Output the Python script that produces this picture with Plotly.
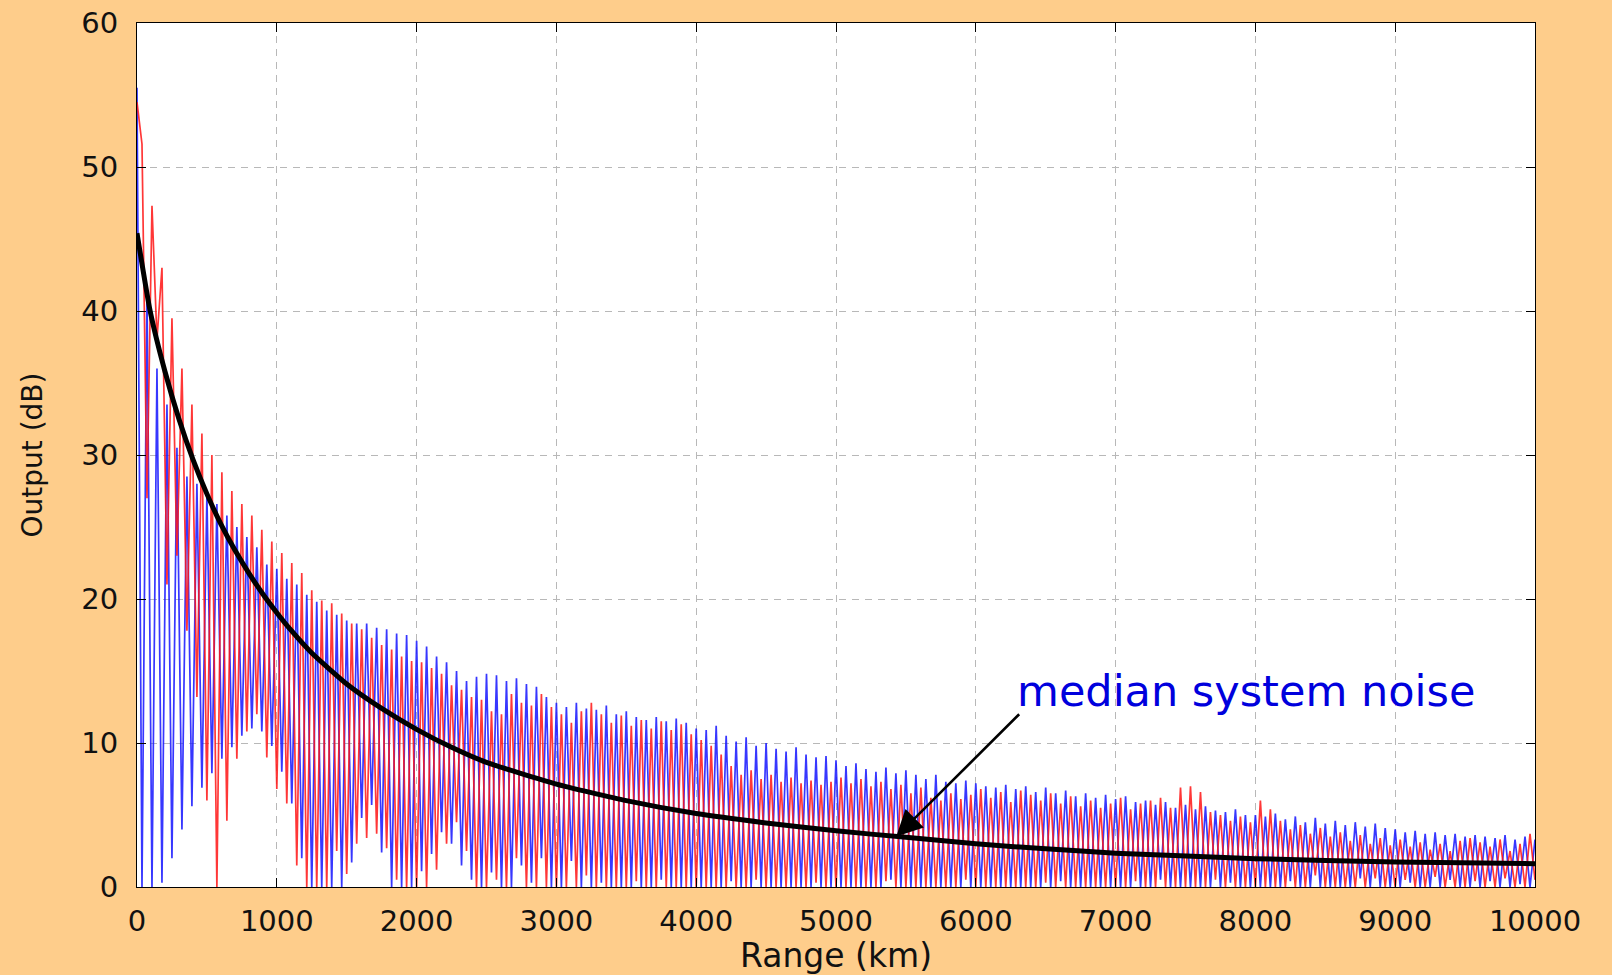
import numpy as np
import plotly.graph_objects as go

# ---------------- data ----------------
STEP_KM = 1000 / 28  # sample spacing of the two range profiles (km)

# blue profile: peaks at even samples, troughs at odd samples
BLUE_PEAKS = [
    55.5, 41.5, 36.0, 33.5, 30.5, 28.5, 28.0, 27.2, 26.6, 25.8, 25.0, 24.3, 23.6, 22.4,
    22.1, 21.4, 21.0, 20.3, 19.8, 19.2, 18.9, 18.5, 18.3, 18.3, 18.0, 17.9, 17.6, 17.5,
    17.1, 16.7, 16.0, 15.6, 15.0, 14.3, 14.6, 14.8, 14.7, 14.3, 14.5, 14.1, 13.9, 13.2,
    12.8, 12.5, 12.8, 12.4, 12.3, 12.6, 12.0, 12.2, 11.8, 11.6, 11.8, 11.5, 11.7, 11.4,
    11.0, 10.9, 11.2, 10.5, 10.1, 10.4, 9.8, 10.0, 9.6, 9.4, 9.7, 9.2, 9.0, 9.1,
    8.8, 8.4, 8.6, 8.2, 8.0, 8.3, 7.9, 8.1, 7.8, 7.5, 7.8, 7.3, 7.2, 7.4,
    7.2, 7.0, 6.9, 7.1, 6.8, 7.0, 6.6, 6.9, 6.5, 6.7, 6.3, 6.5, 6.2, 6.4,
    6.1, 6.3, 5.9, 6.0, 5.7, 5.9, 5.5, 5.7, 5.4, 5.6, 5.3, 5.2, 5.4, 5.0,
    5.0, 4.9, 5.1, 4.7, 4.9, 4.5, 4.8, 4.4, 4.6, 4.3, 4.5, 4.2, 4.4, 4.1,
    4.0, 3.8, 3.9, 3.7, 3.8, 3.6, 3.7, 3.5, 3.6, 3.5, 3.4, 3.6, 3.3, 3.5,
    3.3,
]
BLUE_TROUGHS = [
    0.0, 0.0, 0.3, 2.0, 4.0, 5.6, 6.9, 7.9, 8.9, 9.7, 10.5, 11.0, 10.8, 9.8,
    8.0, 5.8, 2.0, 0.0, 0.0, 0.0, 0.0, 1.7, 4.8, 5.7, 2.4, 0.0, 0.0, 0.0,
    1.1, 2.3, 3.8, 3.0, 1.5, 0.5, 0.0, 1.0, 0.0, 0.0, 1.5, 0.3, 2.0, 0.0,
    0.0, 1.8, 0.0, 0.0, 0.3, 0.0, 0.0, 0.0, 0.0, 0.0, 0.5, 0.0, 0.0, 0.0,
    0.0, 0.0, 0.0, 0.4, 0.0, 0.0, 0.0, 0.0, 0.0, 0.0, 0.0, 0.0, 0.0, 0.0,
    0.0, 0.0, 0.0, 0.0, 0.0, 0.5, 0.0, 0.0, 0.0, 0.0, 0.0, 0.0, 0.0, 0.0,
    0.0, 0.0, 0.0, 0.0, 0.0, 0.0, 0.0, 0.0, 0.4, 0.0, 0.0, 0.0, 0.0, 0.0,
    0.0, 0.0, 0.0, 0.0, 0.5, 0.0, 0.0, 0.0, 0.0, 0.0, 0.0, 0.3, 0.0, 0.0,
    0.0, 0.0, 0.0, 0.4, 0.0, 0.0, 0.0, 0.0, 0.0, 0.0, 0.6, 0.0, 0.0, 0.0,
    0.0, 0.3, 0.0, 0.0, 0.0, 0.5, 0.0, 0.0, 0.0, 0.4, 0.0, 0.0, 0.2, 0.0,
]

# red profile: first sample, then peaks at odd samples, troughs at even samples
RED_START = 54.5
RED_PEAKS = [
    51.6, 47.3, 43.0, 39.5, 36.0, 33.5, 31.5, 30.0, 28.8, 27.5, 26.6, 25.8, 24.8, 24.0,
    23.2, 22.5, 21.8, 20.6, 19.9, 19.7, 19.0, 18.3, 17.9, 17.3, 16.8, 16.5, 16.0, 15.7,
    15.6, 15.2, 14.8, 14.0, 13.7, 13.2, 13.0, 12.2, 12.0, 13.4, 12.8, 12.6, 13.4, 12.5,
    12.0, 11.4, 12.2, 12.8, 12.0, 11.4, 11.9, 11.2, 11.6, 11.0, 11.5, 10.9, 11.3, 10.6,
    10.2, 9.8, 9.2, 8.4, 7.8, 8.1, 7.5, 7.8, 7.3, 7.6, 7.2, 7.4, 7.1, 7.3,
    7.6, 7.2, 7.5, 7.0, 7.3, 6.8, 7.1, 6.5, 6.9, 6.2, 6.0, 6.5, 6.1, 6.4,
    6.8, 6.2, 6.6, 5.9, 6.7, 6.4, 6.0, 6.5, 5.8, 6.3, 5.6, 6.0, 5.5, 5.8,
    6.2, 5.4, 5.8, 6.0, 6.2, 5.5, 6.9, 7.0, 6.6, 5.2, 5.0, 4.6, 4.9, 4.5,
    6.0, 5.4, 4.6, 4.0, 4.3, 3.7, 4.1, 3.5, 3.8, 3.2, 3.6, 3.0, 3.4, 2.9,
    3.3, 2.8, 3.1, 2.6, 3.0, 2.5, 3.2, 3.4, 3.1, 2.8, 3.3, 2.5, 3.0, 3.7,
]
RED_TROUGHS = [
    27.0, 38.0, 21.0, 23.0, 17.8, 13.2, 6.0, 0.0, 4.6, 8.9, 10.8, 12.0, 9.0, 6.8,
    5.8, 1.5, 0.0, 0.0, 0.0, 2.5, 0.9, 3.0, 3.4, 3.7, 2.7, 0.5, 0.0, 0.0,
    0.0, 1.2, 3.0, 4.5, 2.5, 0.0, 0.0, 0.5, 0.0, 2.0, 0.0, 0.0, 0.0, 0.0,
    0.0, 0.0, 0.8, 0.0, 0.0, 0.0, 0.0, 0.4, 0.0, 0.0, 0.0, 0.0, 0.0, 0.0,
    0.0, 0.0, 0.0, 0.0, 0.0, 0.5, 0.0, 0.0, 0.0, 0.0, 0.0, 0.3, 0.0, 0.0,
    0.0, 0.0, 0.0, 0.0, 0.4, 0.0, 0.0, 0.0, 0.0, 0.0, 0.0, 0.0, 0.5, 0.0,
    0.0, 0.0, 0.0, 0.0, 0.0, 0.0, 0.3, 0.0, 0.0, 0.0, 0.0, 0.0, 0.0, 0.0,
    0.0, 0.4, 0.0, 0.0, 0.0, 0.0, 0.0, 0.0, 0.0, 0.5, 0.0, 0.0, 0.0, 0.0,
    0.0, 0.0, 0.0, 0.0, 0.0, 0.8, 0.0, 0.0, 0.0, 0.0, 0.0, 0.6, 0.0, 0.0,
    0.5, 0.0, 0.0, 0.7, 0.0, 0.0, 0.0, 0.4, 0.0, 0.0, 0.6, 0.0, 0.0, 0.5,
]

# median system noise curve
MEDIAN_KM = [0, 94, 200, 300, 400, 500, 600, 700, 800, 900, 1000, 1100, 1250, 1500,
             1750, 2000, 2250, 2500, 3000, 3500, 4000, 4500, 5000, 5500, 6000, 6500,
             7000, 8000, 9000, 10000]
MEDIAN_DB = [45.4, 40.0, 35.8, 32.5, 29.7, 27.3, 25.2, 23.4, 21.8, 20.35, 19.05, 17.85,
             16.25, 14.1, 12.4, 10.95, 9.7, 8.65, 7.15, 6.0, 5.1, 4.45, 3.9, 3.45, 3.0,
             2.65, 2.35, 1.97, 1.73, 1.62]

X_TICKS = list(range(0, 10001, 1000))
Y_TICKS = list(range(0, 61, 10))

ANNOT_TEXT = "median system noise"
ANNOT_TEXT_POS = (7930, 13.6)
ARROW_TIP = (5431, 3.5)
ARROW_TAIL = (6321, 12.1)


def interleave(a, b):
    out = []
    for p, t in zip(a, b):
        out += [p, t]
    return out


blue_y = interleave(BLUE_PEAKS[:-1], BLUE_TROUGHS) + [BLUE_PEAKS[-1]]
red_y = [RED_START] + interleave(RED_PEAKS, RED_TROUGHS)
blue_x = np.arange(len(blue_y)) * STEP_KM
red_x = np.arange(len(red_y)) * STEP_KM

FONT = "DejaVu Sans"

fig = go.Figure()
fig.add_trace(go.Scatter(x=blue_x, y=blue_y, mode="lines",
                         line=dict(color="rgba(20,20,255,0.85)", width=1.7),
                         showlegend=False, hoverinfo="skip"))
fig.add_trace(go.Scatter(x=red_x, y=red_y, mode="lines",
                         line=dict(color="rgba(255,20,20,0.85)", width=1.7),
                         showlegend=False, hoverinfo="skip"))
fig.add_trace(go.Scatter(x=MEDIAN_KM, y=MEDIAN_DB, mode="lines",
                         line=dict(color="black", width=5, shape="spline", smoothing=0.5),
                         showlegend=False, hoverinfo="skip"))

fig.add_annotation(x=ARROW_TIP[0], y=ARROW_TIP[1], ax=ARROW_TAIL[0], ay=ARROW_TAIL[1],
                   xref="x", yref="y", axref="x", ayref="y", text="",
                   showarrow=True, arrowhead=2, arrowsize=2.0, arrowwidth=2.6,
                   arrowcolor="black", standoff=0)
fig.add_annotation(x=ANNOT_TEXT_POS[0], y=ANNOT_TEXT_POS[1], xref="x", yref="y",
                   text=ANNOT_TEXT, showarrow=False, xanchor="center", yanchor="middle",
                   font=dict(family=FONT, size=43, color="#0000dd"))

axis_common = dict(
    showline=True, linecolor="black", linewidth=1.2, mirror="ticks",
    ticks="inside", ticklen=9, tickwidth=1.2, tickcolor="black",
    showgrid=True, gridcolor="#b8b8b8", gridwidth=1, griddash="7px,6px",
    zeroline=False, tickfont=dict(family=FONT, size=29, color="#111111"),
    automargin=False,
)

fig.update_xaxes(range=[0, 10000], tickvals=X_TICKS, ticktext=[str(v) for v in X_TICKS],
                 title=dict(text="Range (km)", font=dict(family=FONT, size=33, color="#111111"),
                            standoff=6),
                 ticklabelstandoff=8, **axis_common)
fig.update_yaxes(range=[0, 60], tickvals=Y_TICKS, ticktext=[str(v) for v in Y_TICKS],
                 title=dict(text="Output (dB)", font=dict(family=FONT, size=28, color="#111111"),
                            standoff=30),
                 ticklabelstandoff=12, **axis_common)

fig.update_layout(
    width=1612, height=975, autosize=False,
    margin=dict(l=137, r=77, t=23, b=88, pad=0),
    paper_bgcolor="#FECD8B", plot_bgcolor="white",
)

fig.write_html("out.html")
